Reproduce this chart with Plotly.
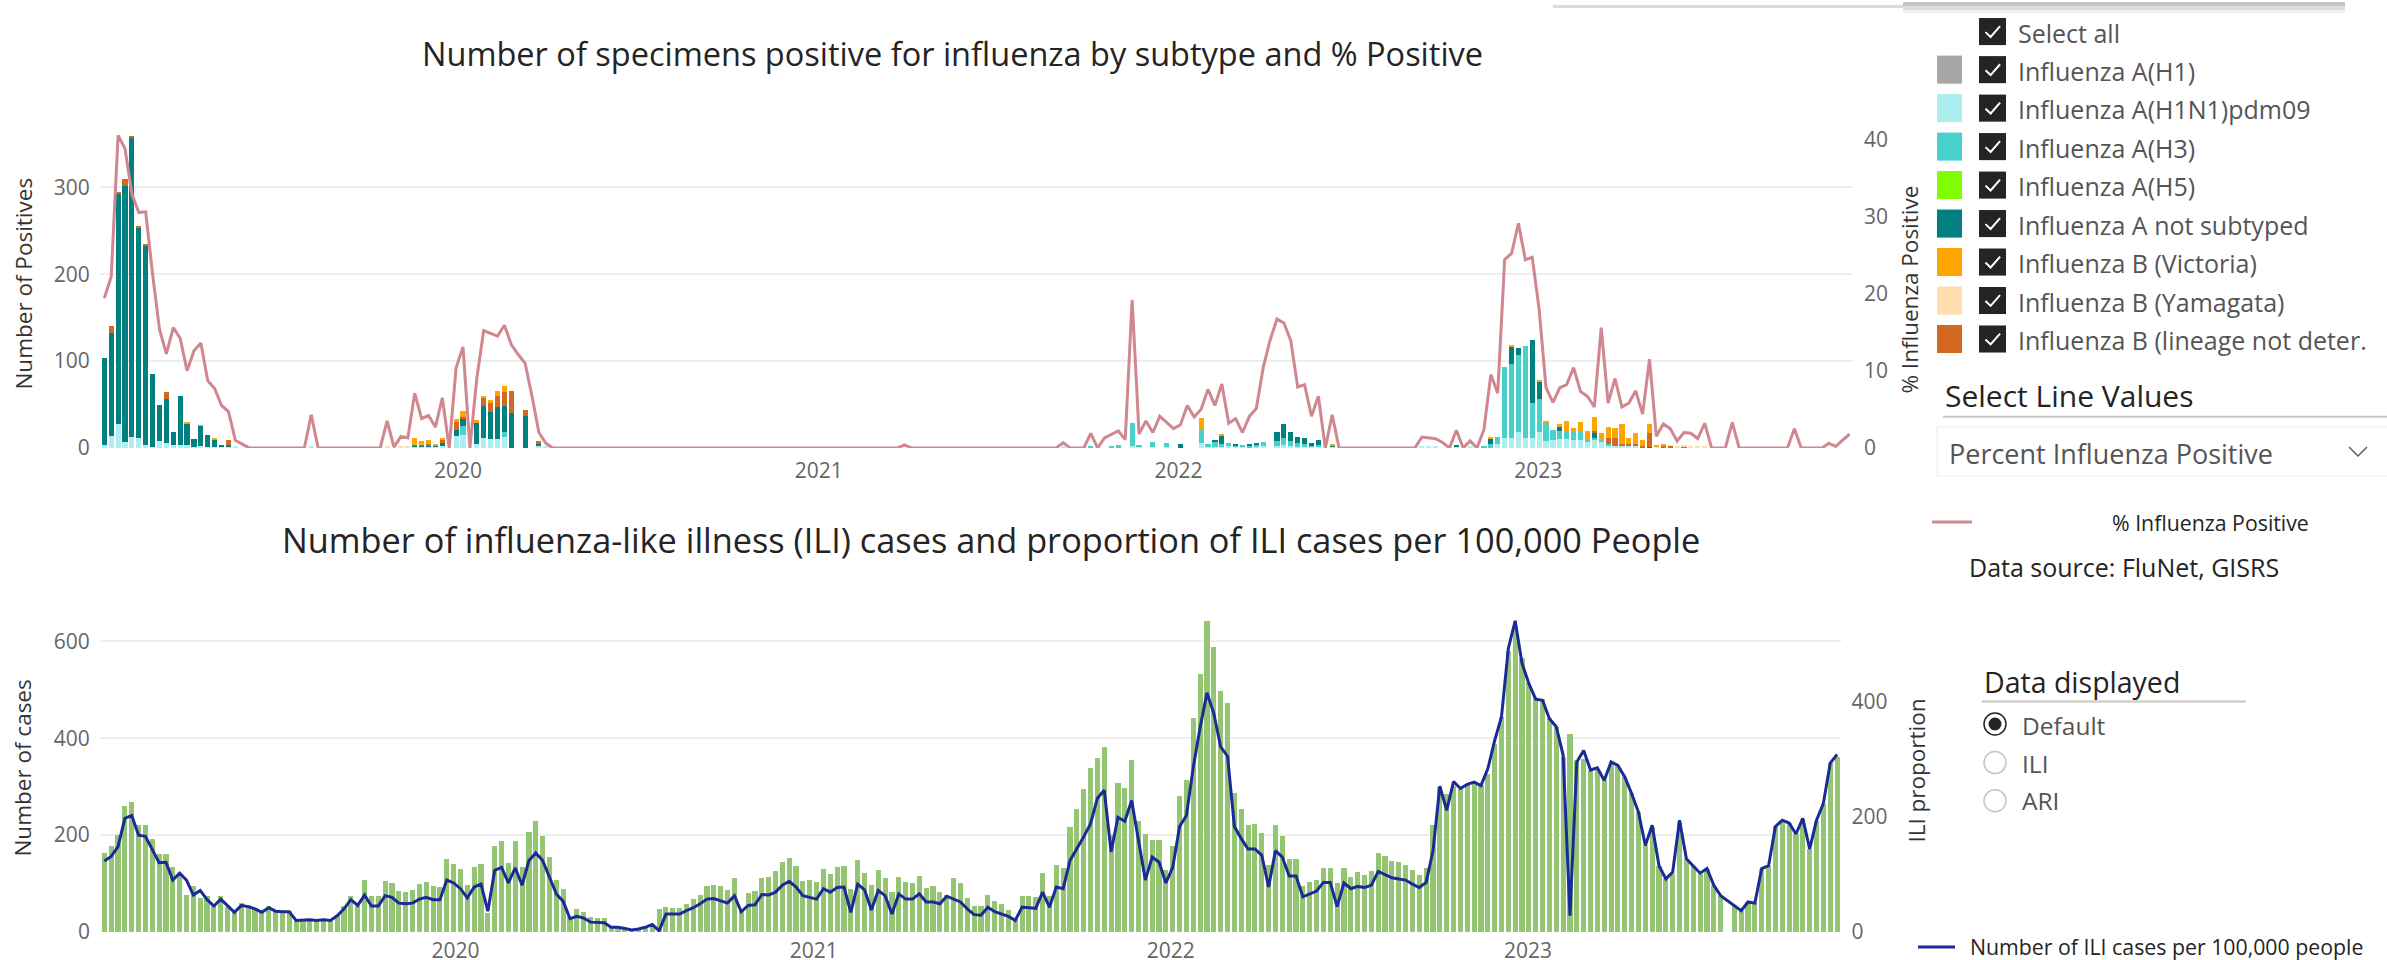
import plotly.graph_objects as go
import pandas as pd

START = "2019-01-07"
N = 254
weeks = pd.date_range(START, periods=N, freq="7D")

# % influenza positive (right axis of top chart)
pct_positive = [
    19.4, 22.2, 40.5, 38.8, 32.9, 30.5, 30.6, 22.5, 15.4, 12.2,
    15.6, 14.2, 10.0, 12.6, 13.6, 8.7, 7.7, 5.5, 4.7, 1.0,
    0.5, 0, 0, 0, 0, 0, 0, 0, 0, 0,
    4.3, 0, 0, 0, 0, 0, 0, 0, 0, 0,
    0, 3.5, 0.1, 1.5, 1.3, 7.1, 3.8, 4.2, 2.7, 6.5,
    0, 10.4, 13.1, 0, 9.0, 15.2, 14.8, 14.5, 15.9, 13.4,
    12.1, 11.0, 6.7, 2.0, 0.6, 0, 0, 0, 0, 0,
    0, 0, 0, 0, 0, 0, 0, 0, 0, 0,
    0, 0, 0, 0, 0, 0, 0, 0, 0, 0,
    0, 0, 0, 0, 0, 0, 0, 0, 0, 0,
    0, 0, 0, 0, 0, 0, 0, 0, 0, 0,
    0, 0, 0, 0, 0, 0, 0.4, 0, 0, 0,
    0, 0, 0, 0, 0, 0, 0, 0, 0, 0,
    0, 0, 0, 0, 0, 0, 0, 0, 0, 0.7,
    0, 0, 0, 1.9, 0, 1.3, 1.8, 2.2, 1.1, 19.2,
    1.8, 3.5, 2.0, 4.1, 3.3, 2.5, 3.0, 5.5, 4.0, 5.0,
    7.6, 5.5, 8.3, 3.2, 3.8, 2.0, 4.1, 5.1, 10.4, 14.0,
    16.7, 16.2, 13.9, 7.9, 8.2, 4.1, 6.7, 0, 4.3, 0,
    0, 0, 0, 0, 0, 0, 0, 0, 0, 0,
    0, 1.4, 1.3, 1.2, 0.7, 0, 2.3, 0, 0.9, 0,
    2.4, 9.5, 7.1, 24.4, 25.2, 29.1, 24.4, 24.7, 18.0, 7.8,
    5.9, 7.8, 8.2, 10.4, 7.3, 6.7, 5.3, 15.6, 5.8, 9.0,
    5.3, 5.8, 7.4, 4.4, 11.5, 1.5, 3.1, 2.5, 0.9, 2.0,
    1.9, 1.2, 3.2, 0, 0, 0, 3.3, 0, 0, 0,
    0, 0, 0, 0, 0, 2.5, 0, 0, 0, 0,
    0.6, 0.2, 1.0, 1.8,
]

a_h1n1pdm09 = [
    3, 14, 27, 7, 13, 12, 3, 1, 8, 6,
    3, 3, 3, 1, 2, 1, 1, 1, 1, 2,
    0, 0, 0, 0, 0, 0, 0, 0, 0, 0,
    2, 0, 0, 0, 0, 0, 0, 0, 0, 0,
    0, 0, 0, 0, 0, 1, 1, 1, 1, 2,
    0, 14, 15, 0, 5, 12, 10, 10, 13, 0,
    0, 0, 0, 2, 1, 0, 0, 0, 0, 0,
    0, 0, 0, 0, 0, 0, 0, 0, 0, 0,
    0, 0, 0, 0, 0, 0, 0, 0, 0, 0,
    0, 0, 0, 0, 0, 0, 0, 0, 0, 0,
    0, 0, 0, 0, 0, 0, 0, 0, 0, 0,
    0, 0, 0, 0, 0, 0, 0, 0, 0, 0,
    0, 0, 0, 0, 0, 0, 0, 0, 0, 0,
    0, 0, 0, 0, 0, 0, 0, 0, 0, 2,
    0, 0, 0, 0, 0, 0, 0, 0, 0, 2,
    1, 0, 1, 0, 1, 0, 0, 0, 0, 6,
    1, 1, 1, 2, 1, 1, 0, 1, 2, 0,
    2, 3, 2, 1, 1, 1, 1, 0, 1, 0,
    0, 0, 0, 0, 0, 0, 0, 0, 0, 0,
    0, 1, 1, 1, 0, 0, 1, 0, 1, 0,
    0, 0, 5, 11, 11, 18, 12, 12, 18, 8,
    9, 10, 10, 9, 9, 7, 9, 7, 3, 2,
    2, 2, 3, 0, 0, 0, 0, 0, 0, 0,
    0, 0, 0, 0, 0, 0, 0, 0, 0, 0,
    0, 0, 0, 0, 0, 0, 0, 0, 0, 0,
    0, 0, 0, 0,
]

a_h3 = [
    0, 0, 0, 0, 0, 0, 0, 0, 0, 0,
    0, 0, 0, 0, 0, 0, 0, 0, 0, 0,
    0, 0, 0, 0, 0, 0, 0, 0, 0, 0,
    0, 0, 0, 0, 0, 0, 0, 0, 0, 0,
    0, 0, 0, 0, 0, 0, 0, 0, 0, 0,
    0, 0, 10, 0, 0, 0, 0, 0, 5, 0,
    0, 0, 0, 0, 0, 0, 0, 0, 0, 0,
    0, 0, 0, 0, 0, 0, 0, 0, 0, 0,
    0, 0, 0, 0, 0, 0, 0, 0, 0, 0,
    0, 0, 0, 0, 0, 0, 0, 0, 0, 0,
    0, 0, 0, 0, 0, 0, 0, 0, 0, 0,
    0, 0, 0, 0, 0, 0, 0, 0, 0, 0,
    0, 0, 0, 0, 0, 0, 0, 0, 0, 0,
    0, 0, 0, 0, 0, 0, 0, 0, 0, 0,
    0, 0, 0, 2, 0, 0, 2, 3, 0, 27,
    2, 0, 6, 0, 5, 0, 0, 0, 0, 15,
    3, 6, 3, 4, 1, 1, 2, 3, 5, 0,
    6, 9, 6, 5, 4, 1, 2, 0, 0, 0,
    0, 0, 0, 0, 0, 0, 0, 0, 0, 0,
    0, 0, 0, 0, 0, 0, 0, 0, 0, 0,
    2, 5, 8, 82, 86, 89, 105, 40, 38, 21,
    12, 9, 9, 9, 10, 2, 3, 2, 1, 0,
    0, 0, 0, 0, 0, 0, 0, 0, 0, 0,
    0, 0, 0, 0, 0, 0, 0, 0, 0, 0,
    0, 0, 0, 0, 0, 0, 0, 0, 0, 0,
    0, 0, 0, 0,
]

a_not_subtyped = [
    101, 118, 266, 295, 344, 242, 230, 84, 42, 50,
    15, 57, 25, 9, 23, 14, 8, 2, 2, 0,
    0, 0, 0, 0, 0, 0, 0, 0, 0, 0,
    0, 0, 0, 0, 0, 0, 0, 0, 0, 0,
    0, 0, 0, 0, 0, 1, 1, 1, 1, 4,
    0, 7, 8, 0, 24, 36, 31, 37, 30, 40,
    0, 37, 0, 2, 0, 0, 0, 0, 0, 0,
    0, 0, 0, 0, 0, 0, 0, 0, 0, 0,
    0, 0, 0, 0, 0, 0, 0, 0, 0, 0,
    0, 0, 0, 0, 0, 0, 0, 0, 0, 0,
    0, 0, 0, 0, 0, 0, 0, 0, 0, 0,
    0, 0, 0, 0, 0, 0, 0, 0, 0, 0,
    0, 0, 0, 0, 0, 0, 0, 0, 0, 0,
    0, 0, 0, 0, 0, 0, 0, 0, 0, 0,
    0, 0, 0, 0, 0, 0, 0, 0, 0, 0,
    0, 0, 0, 0, 0, 0, 4, 0, 0, 0,
    0, 2, 10, 0, 2, 0, 3, 2, 0, 0,
    10, 16, 10, 7, 6, 4, 6, 0, 2, 0,
    0, 0, 0, 0, 0, 0, 0, 0, 0, 0,
    0, 0, 0, 0, 0, 0, 2, 0, 0, 0,
    0, 6, 0, 0, 20, 8, 0, 72, 20, 0,
    0, 5, 0, 0, 0, 0, 5, 0, 0, 0,
    0, 0, 0, 0, 1, 0, 0, 0, 0, 0,
    0, 0, 0, 0, 0, 0, 0, 0, 0, 0,
    0, 0, 0, 0, 0, 0, 0, 0, 0, 0,
    0, 0, 0, 0,
]

b_victoria = [
    0, 0, 0, 0, 0, 0, 0, 0, 0, 0,
    0, 0, 1, 0, 1, 0, 1, 0, 0, 0,
    0, 0, 0, 0, 0, 0, 0, 0, 0, 0,
    0, 0, 0, 0, 0, 0, 0, 0, 0, 0,
    0, 0, 0, 0, 0, 9, 5, 5, 3, 1,
    0, 3, 7, 0, 3, 2, 3, 5, 7, 0,
    0, 0, 0, 0, 0, 0, 0, 0, 0, 0,
    0, 0, 0, 0, 0, 0, 0, 0, 0, 0,
    0, 0, 0, 0, 0, 0, 0, 0, 0, 0,
    0, 0, 0, 0, 0, 0, 0, 0, 0, 0,
    0, 0, 0, 0, 0, 0, 0, 0, 0, 0,
    0, 0, 0, 0, 0, 0, 0, 0, 0, 0,
    0, 0, 0, 0, 0, 0, 0, 0, 0, 0,
    0, 0, 0, 0, 0, 0, 0, 0, 0, 0,
    0, 0, 0, 0, 0, 0, 0, 0, 0, 0,
    0, 0, 0, 0, 0, 0, 0, 0, 0, 13,
    0, 0, 1, 0, 0, 0, 0, 0, 0, 0,
    0, 0, 0, 0, 0, 0, 0, 0, 1, 0,
    0, 0, 0, 0, 0, 0, 0, 0, 0, 0,
    0, 0, 0, 0, 0, 0, 0, 0, 0, 0,
    0, 1, 0, 0, 1, 0, 0, 0, 1, 1,
    0, 3, 12, 5, 11, 10, 17, 8, 12, 11,
    24, 8, 12, 7, 10, 2, 3, 0, 0, 0,
    0, 0, 0, 0, 0, 0, 0, 0, 0, 0,
    0, 0, 0, 0, 0, 0, 0, 0, 0, 0,
    0, 0, 0, 0,
]

b_yamagata = [
    0, 0, 0, 0, 0, 0, 0, 0, 0, 0,
    0, 0, 0, 0, 0, 0, 0, 0, 0, 0,
    0, 0, 0, 0, 0, 0, 0, 0, 0, 0,
    0, 0, 0, 0, 0, 0, 0, 0, 0, 0,
    0, 2, 0, 1, 1, 0, 0, 0, 0, 0,
    0, 0, 0, 0, 0, 0, 0, 0, 0, 0,
    0, 0, 0, 0, 0, 0, 0, 0, 0, 0,
    0, 0, 0, 0, 0, 0, 0, 0, 0, 0,
    0, 0, 0, 0, 0, 0, 0, 0, 0, 0,
    0, 0, 0, 0, 0, 0, 0, 0, 0, 0,
    0, 0, 0, 0, 0, 0, 0, 0, 0, 0,
    0, 0, 0, 0, 0, 0, 0, 0, 0, 0,
    0, 0, 0, 0, 0, 0, 0, 0, 0, 0,
    0, 0, 0, 0, 0, 0, 0, 0, 0, 0,
    0, 0, 0, 0, 0, 0, 0, 0, 0, 0,
    0, 0, 0, 0, 0, 0, 0, 0, 0, 0,
    0, 0, 0, 0, 0, 0, 0, 0, 0, 0,
    0, 0, 0, 0, 0, 0, 0, 0, 0, 0,
    0, 0, 0, 0, 0, 0, 0, 0, 0, 0,
    0, 0, 0, 0, 0, 0, 0, 0, 0, 0,
    0, 0, 0, 0, 0, 0, 0, 0, 0, 0,
    0, 0, 0, 0, 0, 0, 0, 0, 0, 0,
    0, 0, 0, 0, 0, 1, 0, 1, 1, 1,
    2, 1, 1, 0, 0, 0, 0, 0, 0, 0,
    0, 0, 0, 0, 0, 0, 0, 0, 0, 0,
    0, 0, 0, 0,
]

b_lineage_nd = [
    0, 8, 2, 8, 2, 2, 2, 0, 0, 8,
    0, 0, 0, 0, 0, 0, 0, 0, 6, 0,
    0, 0, 0, 0, 0, 0, 0, 0, 0, 0,
    0, 0, 0, 0, 0, 0, 0, 0, 0, 0,
    0, 0, 0, 0, 0, 1, 1, 2, 0, 3,
    0, 9, 3, 0, 0, 10, 11, 13, 16, 25,
    0, 7, 0, 4, 0, 0, 0, 0, 0, 0,
    0, 0, 0, 0, 0, 0, 0, 0, 0, 0,
    0, 0, 0, 0, 0, 0, 0, 0, 0, 0,
    0, 0, 0, 0, 0, 0, 0, 0, 0, 0,
    0, 0, 0, 0, 0, 0, 0, 0, 0, 0,
    0, 0, 0, 0, 0, 0, 0, 0, 0, 0,
    0, 0, 0, 0, 0, 0, 0, 0, 0, 0,
    0, 0, 0, 0, 0, 0, 0, 0, 0, 0,
    0, 0, 0, 0, 0, 0, 0, 0, 0, 0,
    0, 0, 0, 0, 0, 0, 0, 0, 0, 0,
    0, 0, 0, 0, 0, 0, 0, 0, 0, 0,
    0, 0, 0, 0, 0, 0, 0, 0, 0, 0,
    0, 0, 0, 0, 0, 0, 0, 0, 0, 0,
    0, 0, 0, 0, 0, 0, 0, 0, 0, 0,
    0, 0, 0, 0, 0, 0, 0, 0, 0, 0,
    0, 0, 0, 0, 0, 0, 2, 0, 8, 10,
    2, 2, 2, 2, 16, 0, 2, 2, 0, 1,
    0, 0, 0, 0, 0, 0, 0, 0, 0, 0,
    0, 0, 0, 0, 0, 0, 0, 0, 0, 0,
    0, 0, 0, 0,
]

# ILI cases (left axis of bottom chart)
ili_cases = [
    163, 177, 201, 260, 268, 221, 221, 191, 160, 161,
    134, 118, 77, 94, 70, 74, 54, 74, 52, 44,
    59, 56, 50, 46, 54, 44, 44, 44, 23, 23,
    23, 23, 26, 23, 34, 54, 74, 54, 108, 75,
    75, 106, 102, 84, 82, 86, 98, 103, 94, 92,
    150, 141, 130, 96, 134, 141, 40, 178, 188, 143,
    188, 135, 206, 229, 199, 154, 108, 89, 30, 48,
    41, 30, 28, 28, 13, 10, 8, 5, 3, 8,
    17, 48, 52, 50, 50, 58, 67, 77, 94, 97,
    94, 86, 112, 43, 80, 84, 112, 113, 126, 144,
    153, 137, 106, 108, 103, 130, 120, 135, 136, 89,
    148, 122, 96, 127, 112, 82, 114, 103, 101, 116,
    90, 95, 82, 77, 111, 101, 70, 54, 54, 77,
    63, 57, 46, 27, 75, 74, 72, 121, 75, 139,
    132, 217, 253, 296, 339, 360, 382, 200, 308, 298,
    356, 229, 203, 190, 189, 128, 177, 281, 313, 442,
    532, 643, 588, 498, 473, 286, 253, 221, 223, 205,
    139, 220, 198, 150, 150, 94, 103, 108, 132, 132,
    100, 132, 114, 123, 118, 126, 163, 156, 146, 144,
    139, 128, 118, 132, 221, 299, 284, 301, 296, 306,
    308, 303, 327, 389, 443, 581, 629, 565, 514, 482,
    480, 441, 423, 361, 408, 354, 358, 332, 334, 313,
    348, 344, 320, 286, 248, 179, 217, 137, 110, 120,
    227, 151, 137, 120, 130, 96, 75, None, 54, 44,
    61, 59, 130, 137, 218, 230, 225, 203, 234, 172,
    230, 265, 349, 361,
]

# ILI cases per 100,000 people (right axis of bottom chart)
ili_per_100k = [
    123, 131, 148, 197, 202, 168, 166, 143, 120, 121,
    90, 102, 90, 64, 72, 56, 45, 57, 46, 34,
    46, 44, 40, 34, 42, 36, 35, 35, 20, 21,
    21, 20, 21, 20, 28, 40, 56, 46, 64, 45,
    45, 63, 60, 50, 49, 50, 57, 60, 56, 56,
    90, 85, 75, 59, 78, 83, 36, 107, 112, 85,
    111, 81, 124, 137, 124, 95, 66, 53, 23, 27,
    24, 17, 16, 16, 8, 8, 6, 3.5, 5, 8,
    13, 2, 31, 31, 31, 37, 42, 49, 57, 58,
    54, 50, 63, 35, 46, 47, 65, 64, 69, 81,
    88, 78, 63, 60, 57, 75, 69, 77, 78, 34,
    83, 73, 38, 72, 63, 31, 66, 57, 57, 66,
    52, 52, 49, 62, 57, 52, 40, 30, 29, 43,
    35, 31, 27, 20, 43, 42, 41, 69, 43, 78,
    75, 124, 144, 165, 188, 232, 246, 139, 199, 192,
    228, 162, 90, 130, 121, 85, 112, 183, 202, 286,
    355, 415, 379, 321, 305, 183, 162, 144, 144, 133,
    78, 141, 130, 97, 97, 61, 66, 71, 86, 86,
    44, 85, 75, 79, 77, 81, 105, 100, 94, 92,
    90, 83, 77, 86, 141, 253, 211, 261, 249, 256,
    260, 254, 283, 332, 373, 492, 540, 466, 431, 404,
    402, 370, 356, 307, 28, 295, 315, 281, 285, 263,
    295, 289, 269, 240, 208, 150, 185, 115, 92, 104,
    194, 127, 115, 102, 110, 81, 63, 54, 46, 37,
    52, 50, 110, 115, 183, 194, 189, 170, 197, 144,
    194, 223, 293, 308,
]

subtype_names = ["Influenza A(H1)", "Influenza A(H1N1)pdm09", "Influenza A(H3)",
                 "Influenza A(H5)", "Influenza A not subtyped", "Influenza B (Victoria)",
                 "Influenza B (Yamagata)", "Influenza B (lineage not deter."]
subtype_colors = ["#A6A6A6", "#AFEEEE", "#48D1CC", "#7FFF00", "#008080",
                  "#FFA500", "#FFDEAD", "#D2691E"]
year_ticks = ["2020-01-01", "2021-01-01", "2022-01-01", "2023-01-01"]
year_labels = ["2020", "2021", "2022", "2023"]
top_left_ticks = [0, 100, 200, 300]
top_right_ticks = [0, 10, 20, 30, 40]
bot_left_ticks = [0, 200, 400, 600]
bot_right_ticks = [0, 200, 400]

for arr in [pct_positive, a_h1n1pdm09, a_h3, a_not_subtyped, b_victoria,
            b_yamagata, b_lineage_nd, ili_cases, ili_per_100k]:
    assert len(arr) == N, len(arr)

FONT = "Open Sans"
TICK_C = "#666666"
DARK = "#252423"
MID = "#555555"
W = 2387
H = 977          # page height; the captured picture maps it onto 960 rows
REF_H = 960      # layout coordinates below are measured in the 960-row picture


def fx(p):
    """picture pixel x -> paper fraction"""
    return p / W


def fy(p):
    """picture pixel y (from top) -> paper fraction"""
    return 1 - p / REF_H


fig = go.Figure()

stack = [(a_h1n1pdm09, 1), (a_h3, 2), (a_not_subtyped, 4),
         (b_lineage_nd, 7), (b_yamagata, 6), (b_victoria, 5)]
for vals, k in stack:
    fig.add_trace(go.Bar(x=weeks, y=vals, name=subtype_names[k],
                         marker=dict(color=subtype_colors[k], line=dict(width=0)),
                         xaxis="x", yaxis="y", showlegend=False))
fig.add_trace(go.Scatter(x=weeks, y=pct_positive, mode="lines", name="% Influenza Positive",
                         line=dict(color="#D0878F", width=3), xaxis="x", yaxis="y2",
                         showlegend=False))
fig.add_trace(go.Bar(x=weeks, y=ili_cases, name="Number of cases",
                     marker=dict(color="#93C572", line=dict(width=0)),
                     xaxis="x2", yaxis="y3", showlegend=False))
fig.add_trace(go.Scatter(x=weeks, y=ili_per_100k, mode="lines",
                         name="Number of ILI cases per 100,000 people",
                         line=dict(color="#1B2A96", width=3), xaxis="x2", yaxis="y4",
                         showlegend=False, connectgaps=True))

x_lo = pd.Timestamp(START) - pd.Timedelta(hours=84)
x_hi = pd.Timestamp(START) + pd.Timedelta(days=7 * (N - 1)) + pd.Timedelta(hours=84)

tickfont = dict(family=FONT, size=21, color=TICK_C)
common_x = dict(type="date", range=[x_lo, x_hi], tickvals=year_ticks, ticktext=year_labels,
                showgrid=False, zeroline=False, showline=False, ticks="",
                tickfont=tickfont)

fig.update_layout(
    width=W, height=H, margin=dict(l=0, r=0, t=0, b=0),
    paper_bgcolor="white", plot_bgcolor="white",
    barmode="stack", bargap=0.25,
    font=dict(family=FONT, color=DARK),
    xaxis=dict(domain=[fx(100.85), fx(1853)], anchor="y", ticklabelstandoff=8, **common_x),
    yaxis=dict(domain=[fy(445), fy(125)], range=[0, 369.2], tickvals=top_left_ticks,
               showgrid=True, gridcolor="#EEEEEE", gridwidth=2, zeroline=False,
               tickfont=tickfont, ticks="", ticklabelstandoff=10),
    yaxis2=dict(overlaying="y", side="right", anchor="x", range=[0, 41.56],
                tickvals=top_right_ticks, showgrid=False, zeroline=False,
                tickfont=tickfont, ticks="", ticklabelstandoff=10),
    xaxis2=dict(domain=[fx(100.9), fx(1840.5)], anchor="y3", ticklabelstandoff=4, **common_x),
    yaxis3=dict(domain=[fy(928), fy(612)], range=[0, 653.8], tickvals=bot_left_ticks,
                showgrid=True, gridcolor="#EEEEEE", gridwidth=2, zeroline=False,
                tickfont=tickfont, ticks="", ticklabelstandoff=10, anchor="x2"),
    yaxis4=dict(overlaying="y3", side="right", anchor="x2", range=[0, 549.6],
                tickvals=bot_right_ticks, showgrid=False, zeroline=False,
                tickfont=tickfont, ticks="", ticklabelstandoff=10),
)

ann = []
shapes = []


def text(x, y, s, size, color=DARK, anchor="left", angle=0):
    ann.append(dict(x=fx(x), y=fy(y), xref="paper", yref="paper", text=s, showarrow=False,
                    xanchor=anchor, yanchor="middle", textangle=angle,
                    font=dict(family=FONT, size=size, color=color)))


# titles
text(952, 51.5, "Number of specimens positive for influenza by subtype and % Positive", 32.5,
     anchor="center")
text(991, 536, "Number of influenza-like illness (ILI) cases and proportion of ILI cases per 100,000 People",
     34.3, anchor="center")
# axis titles
text(24, 281, "Number of Positives", 22.5, color="#333333", anchor="center", angle=-90)
text(1910, 287, "% Influenza Positive", 22.5, color="#333333", anchor="center", angle=-90)
text(23, 765, "Number of cases", 22.5, color="#333333", anchor="center", angle=-90)
text(1917, 767, "ILI proportion", 22.5, color="#333333", anchor="center", angle=-90)


def rect(x0, y0, x1, y1, fill, line_color=None, lw=0):
    shapes.append(dict(type="rect", xref="paper", yref="paper",
                       x0=fx(x0), x1=fx(x1), y0=fy(y1), y1=fy(y0),
                       fillcolor=fill, line=dict(color=line_color or fill, width=lw)))


def checkbox(xl, yc):
    s = 27
    rect(xl, yc - s / 2, xl + s, yc + s / 2, "#252423")
    pts = [(xl + 0.24 * s, yc + 0.02 * s), (xl + 0.43 * s, yc + 0.2 * s),
           (xl + 0.78 * s, yc - 0.2 * s)]
    path = "M {} {} L {} {} L {} {}".format(fx(pts[0][0]), fy(pts[0][1]), fx(pts[1][0]),
                                            fy(pts[1][1]), fx(pts[2][0]), fy(pts[2][1]))
    shapes.append(dict(type="path", xref="paper", yref="paper", path=path,
                       line=dict(color="white", width=2)))


# subtype slicer
checkbox(1979, 29.5)
text(2016, 31, "Select all", 25, color=MID)
for k, (nm, col) in enumerate(zip(subtype_names, subtype_colors)):
    yc = 67.5 + k * 38.4
    rect(1937, yc - 14, 1962, yc + 14, col)
    checkbox(1979, yc)
    text(2016, yc + 1, nm, 25, color=MID)

# Select Line Values
text(1943, 393, "Select Line Values", 30, color=DARK)
shapes.append(dict(type="line", xref="paper", yref="paper", x0=fx(1943), x1=fx(2387),
                   y0=fy(414), y1=fy(414), line=dict(color="#C8C6C4", width=2)))
rect(1937, 424, 2395, 473, "rgba(0,0,0,0)", line_color="#EDEBE9", lw=1)
text(1947, 451, "Percent Influenza Positive", 27, color=MID)
shapes.append(dict(type="path", xref="paper", yref="paper",
                   path="M {} {} L {} {} L {} {}".format(fx(2349), fy(444), fx(2358), fy(453),
                                                         fx(2367), fy(444)),
                   line=dict(color="#605E5C", width=1.5)))
# line legend (top)
shapes.append(dict(type="line", xref="paper", yref="paper", x0=fx(1932), x1=fx(1972),
                   y0=fy(519), y1=fy(519), line=dict(color="#D0878F", width=3)))
text(2110, 519, "% Influenza Positive", 21.3, color=DARK)
text(1967, 564, "Data source: FluNet, GISRS", 25, color=DARK)

# Data displayed radio
text(1982, 679, "Data displayed", 28.5, color=DARK)
shapes.append(dict(type="line", xref="paper", yref="paper", x0=fx(1982), x1=fx(2246),
                   y0=fy(698), y1=fy(698), line=dict(color="#C8C6C4", width=2)))


def circle(cx, cy, r, fill, line_color, lw):
    shapes.append(dict(type="circle", xref="paper", yref="paper",
                       x0=fx(cx - r), x1=fx(cx + r), y0=fy(cy + r), y1=fy(cy - r),
                       fillcolor=fill, line=dict(color=line_color, width=lw)))


circle(1995, 720.5, 11, "white", "#252423", 1.5)
circle(1995, 720.5, 6.5, "#252423", "#252423", 0)
circle(1995, 759, 11, "white", "#C8C6C4", 1.5)
circle(1995, 797, 11, "white", "#C8C6C4", 1.5)
text(2020, 722, "Default", 24.5, color=MID)
text(2020, 760, "ILI", 24.5, color=MID)
text(2020, 797, "ARI", 24.5, color=MID)

# bottom line legend
shapes.append(dict(type="line", xref="paper", yref="paper", x0=fx(1918), x1=fx(1955),
                   y0=fy(943), y1=fy(943), line=dict(color="#1B2A96", width=3)))
text(1968, 943, "Number of ILI cases per 100,000 people", 21.3, color=DARK)

# the report's thin top shadow
rect(1553, 3, 1903, 6, "#DADADA")
rect(1903, 0, 2345, 4, "#C4C4C4")
rect(1903, 4, 2345, 8, "#DCDCDC")
rect(1903, 8, 2345, 11, "#EFEFEF")

fig.update_layout(annotations=ann, shapes=shapes)
fig.write_html(
    "out.html",
    config={"displayModeBar": False},
    post_script=("document.documentElement.style.margin='0';"
                 "document.body.style.margin='0';"
                 "document.body.style.overflow='hidden';"
                 "document.documentElement.style.overflow='hidden';"),
)
